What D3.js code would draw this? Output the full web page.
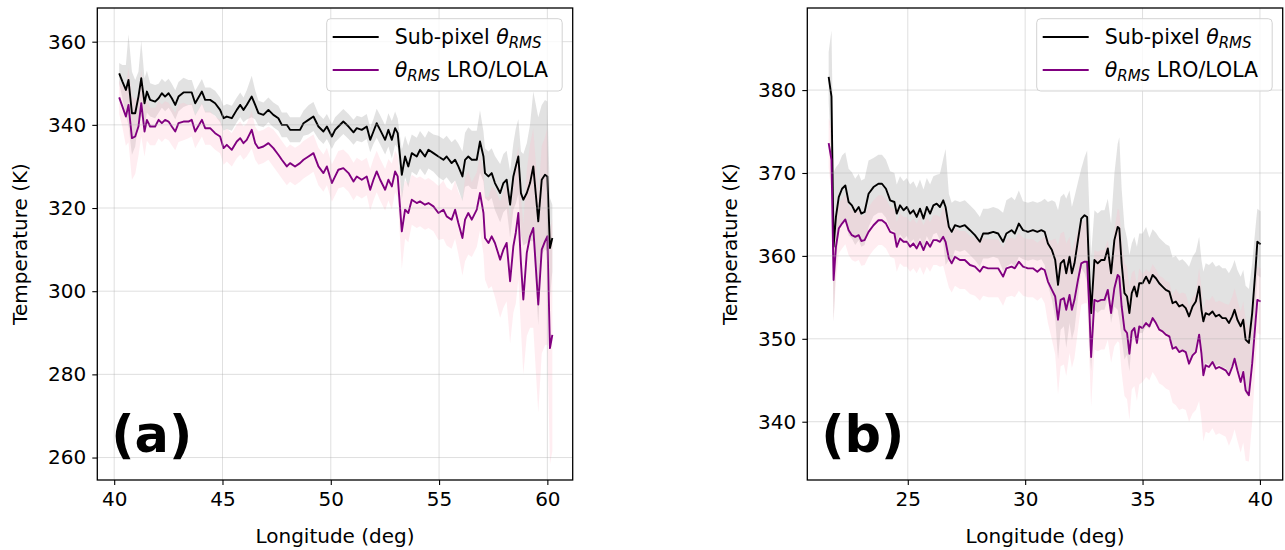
<!DOCTYPE html>
<html><head><meta charset="utf-8">
<script src="https://cdn.jsdelivr.net/npm/d3@7"></script>
<style>body{margin:0;background:#fff}svg{display:block}text{font-family:"DejaVu Sans",sans-serif;fill:#000}</style>
</head><body><svg id="c" width="1285" height="550"></svg>
<script>
// ---------- Panel (a) ----------
const lonA = [40.23,40.38,40.54,40.66,40.82,40.97,41.12,41.25,41.40,41.51,
41.66,41.89,42.05,42.20,42.35,42.51,42.66,42.82,42.97,43.20,
43.43,43.58,43.74,44.05,44.20,44.43,44.66,44.89,45.05,45.20,
45.43,45.66,45.82,45.97,46.12,46.35,46.51,46.66,46.89,47.12,
47.35,47.58,47.74,47.97,48.12,48.35,48.58,48.74,48.97,49.20,
49.43,49.66,49.82,50.05,50.20,50.35,50.58,50.82,51.05,51.20,
51.43,51.66,51.82,51.97,52.12,52.28,52.51,52.66,52.82,52.97,
53.09,53.28,53.43,53.58,53.74,53.97,54.12,54.35,54.51,54.74,
54.97,55.20,55.35,55.58,55.74,55.89,56.08,56.20,56.35,56.51,
56.74,56.89,57.05,57.12,57.28,57.43,57.58,57.82,57.97,58.12,
58.28,58.43,58.54,58.66,58.78,58.89,59.05,59.20,59.35,59.58,
59.74,59.89,60.00,60.12,60.23];
const subA = [352.4,350.4,348.4,350.8,342.8,342.8,346.8,351.2,345.2,348.0,
346.0,345.6,346.4,347.6,346.8,347.6,346.4,344.8,346.8,347.8,
347.8,347.8,345.2,348.0,346.0,346.0,345.2,343.6,341.6,342.0,
341.6,343.6,344.8,343.6,344.8,346.8,344.8,342.8,342.4,343.6,
342.4,341.6,340.0,340.0,338.8,338.8,338.8,340.4,341.2,342.0,
339.6,338.4,339.6,337.2,338.8,339.6,340.8,339.6,338.2,339.2,
338.8,339.6,336.4,338.4,340.4,338.8,336.4,338.8,336.4,339.2,
338.0,328.0,332.4,330.0,333.2,332.4,334.0,332.4,334.0,333.2,
332.4,331.6,332.4,330.8,331.6,330.0,327.6,331.6,332.4,331.6,
331.6,336.0,332.4,328.4,327.6,328.4,326.0,323.6,326.0,326.8,
320.8,327.6,330.0,332.4,323.6,322.0,323.6,326.0,330.0,316.8,
326.8,328.0,327.6,310.4,312.8];
const lolaA = [346.6,344.4,342.0,344.8,336.8,337.2,339.6,345.2,338.4,341.2,
339.6,339.6,341.2,340.4,341.2,340.8,339.6,338.4,340.4,340.8,
340.8,341.2,338.4,341.2,339.2,339.2,338.0,337.2,334.4,335.2,
334.0,336.0,336.8,335.6,336.4,338.8,335.6,334.4,334.8,335.6,
334.4,332.8,331.6,330.0,330.8,330.0,330.8,331.6,332.4,333.2,
330.0,328.4,330.0,326.0,327.6,329.2,329.6,328.4,326.4,327.6,
326.8,327.6,324.4,326.8,328.8,326.8,324.4,326.8,325.2,328.8,
327.6,314.4,319.6,318.8,322.0,321.2,321.6,320.8,321.2,320.4,
318.8,319.6,318.0,317.2,319.6,316.4,312.8,317.2,318.8,317.2,
319.6,323.6,318.8,312.8,311.6,313.2,311.6,307.6,310.0,311.6,
302.4,310.8,314.0,318.8,306.8,298.0,309.2,313.2,315.2,296.8,
310.0,312.0,313.2,286.3,289.5];
const subSdA = [2.5,4,6,11,10,8,6,9,6,5,
4,4,3.5,3.5,3.5,3.5,3.5,3.5,3.5,3.5,
3,3,3,3,3,3,3,3,3,3,
3,3,3,3,3.5,5,3.5,3,3,3,
3,3,3,3,3,3,3,3,3.5,3.5,
3,3,3,3,3,3,3,3,3,3,
3,3,3,3,3.5,3.5,3.5,4,4.5,4,
3.5,6,5,5,4.5,4.5,4.5,4.5,4.5,4.5,
5,5,5,5,5,5.5,6,6.5,7,7,
7,7.5,6,6,6,6,6.5,7,7,7,
8,8,9,9,10,11,12,14,18,25,
18,18,18,12,8];
const lolaSdA = [4,5,7,9,10,9,7,8,6,5,
4.5,4.5,4.5,4.5,4.5,4.5,4.5,4.5,4.5,4.5,
4,4,4,4,4,4,4,4,4,4,
4,4,4,4,4,4.5,4,4,4,4,
4.5,4.5,4.5,4.5,4.5,4.5,4.5,4.5,4.5,4.5,
4.5,4.5,4.5,4.5,4.5,4.5,4.5,4.5,4.5,4.5,
4.5,4.5,5,5,5,5,5,5,5.5,5,
5,9,7,7,6,6,6,6,6,6,
6.5,7,7,7,7,7.5,9,10,10,9,
9,9,10,10,11,12,13,14,14,14,
15,16,17,16,16,18,20,22,24,26,
25,25,26,28,28];

// ---------- Panel (b) ----------
const lonB = [21.63,21.75,21.84,21.94,22.06,22.20,22.34,22.48,22.62,22.76,
22.91,23.02,23.16,23.33,23.54,23.75,23.90,24.07,24.25,24.43,
24.53,24.67,24.82,24.96,25.10,25.24,25.38,25.52,25.67,25.81,
25.95,26.09,26.23,26.37,26.51,26.61,26.75,26.87,27.01,27.22,
27.43,27.65,27.86,28.07,28.21,28.42,28.64,28.85,29.06,29.20,
29.42,29.56,29.73,29.91,30.12,30.33,30.52,30.69,30.83,30.97,
31.14,31.28,31.40,31.51,31.65,31.75,31.89,31.99,32.10,32.25,
32.39,32.53,32.64,32.74,32.81,32.95,33.09,33.24,33.38,33.52,
33.66,33.80,33.94,34.01,34.11,34.23,34.34,34.44,34.54,34.65,
34.76,34.86,35.00,35.15,35.29,35.43,35.57,35.71,35.85,35.99,
36.14,36.28,36.42,36.56,36.70,36.84,36.98,37.13,37.27,37.41,
37.51,37.59,37.69,37.83,37.98,38.12,38.26,38.40,38.54,38.68,
38.82,38.92,39.04,39.18,39.29,39.39,39.53,39.67,39.82,39.89,
40.03];
const subB = [381.6,379.2,361.1,364.7,367.1,368.1,368.5,366.5,366.1,365.3,
365.9,365.1,365.3,367.5,368.3,368.7,368.7,368.1,366.7,366.5,
365.1,366.1,365.5,365.9,365.1,365.5,364.7,365.7,364.5,365.9,
365.1,366.1,366.3,365.9,366.7,365.9,363.5,362.9,363.7,363.5,
363.7,363.1,362.5,361.7,362.7,362.7,362.9,362.7,361.7,362.7,
363.1,362.7,363.9,363.1,362.9,363.1,362.9,363.1,362.9,361.5,
360.7,359.5,356.5,359.1,359.5,357.9,359.9,357.9,359.1,361.9,
364.5,364.9,364.7,357.1,353.1,359.5,359.1,359.5,359.5,360.9,
357.9,361.9,363.5,363.3,359.1,355.5,355.1,353.1,355.5,356.3,
355.1,356.7,356.7,357.5,356.7,357.7,357.3,356.7,356.3,355.9,
355.7,354.3,354.5,353.9,354.1,353.7,352.7,353.9,354.5,356.3,
353.5,352.1,353.1,352.9,353.3,352.7,352.9,352.5,352.5,351.9,
352.7,353.5,352.3,351.5,352.3,349.9,349.5,353.1,358.7,361.7,
361.4];
const lolaB = [373.6,371.6,357.1,361.1,363.3,363.9,364.4,363.1,362.5,362.3,
362.5,361.8,361.9,362.9,363.7,364.3,364.3,363.9,362.9,362.7,
361.1,362.1,361.7,361.7,361.1,361.5,360.9,361.7,360.7,361.7,
361.1,361.9,361.9,361.7,362.3,361.7,359.7,359.1,359.9,359.5,
359.5,358.9,358.7,358.1,358.7,358.5,358.5,358.5,357.5,358.5,
358.7,358.5,359.3,358.7,358.5,358.5,358.1,358.5,358.3,356.9,
355.9,355.1,352.3,354.7,354.9,353.5,355.3,353.5,354.7,357.1,
359.1,359.3,359.3,353.1,347.8,354.7,354.5,354.7,354.7,355.9,
353.1,356.1,357.7,357.5,353.9,351.1,350.7,348.2,350.9,351.3,
349.5,351.5,351.3,351.9,351.5,352.5,351.9,351.1,350.9,350.5,
350.3,348.8,349.0,348.4,348.6,348.4,347.0,348.0,348.4,350.5,
348.2,345.6,346.8,346.6,347.2,346.4,346.6,346.4,346.2,345.6,
346.6,347.6,346.2,344.8,346.0,343.8,343.2,347.0,352.3,354.7,
354.5];
const subSdB = [3,8,9,6,4,4,4,4,4,4,
4,4,4,4,3.5,3.5,3.5,3.5,3.5,3.5,
3.5,3.5,3.5,3.5,3.5,3.5,3.5,3.5,3.5,3.5,
3.5,3.5,3.5,4,5,7,4,3.5,3,3,
3,3,3,3,3,3,3,3,3.5,4,
4,4,4,3.5,3.5,3.5,3.5,3.5,4,5,
6,7,9,8,8,9,8,8,8,7,
6,7,8,8,7,6,6,6,6,6,
6,8,10,11,9,8,7,7,6,6,
6,6,6,6,5.5,5.5,5.5,5.5,5.5,5.5,
5.5,5.5,5.5,5.5,5.5,5.5,6,6,6,6,
6,6,6,6,6,6,6,6,6,6,
6,6,6,6,6,6.5,6.5,6,5,4,
4];
const lolaSdB = [3,4,5,4,3,3,3,3,3,3,
3,3,3,3,3,3,3,3,3,3,
3,3,3,3,3,3,3,3,3,3,
3,3,3,3,3.5,4,3.5,3.5,3.5,3.5,
3.5,3.5,3.5,3.5,3.5,3.5,3.5,3.5,3.5,3.5,
3.5,3.5,3.5,3.5,3.5,3.5,3.5,3.5,4,5,
6,7,9,8,8,8,7,7,7,6,
5,5,5,6,6,6,6,6,6,6,
6,7,8,8,8,8,8,8,7,7,
7,7,6.5,6.5,6.5,6.5,6.5,6.5,6.5,6.5,
6.5,6.5,7,7,7,7,7,7,7,8,
8,8,8,8,8,8,8,8,8,8.5,
8.5,8.5,8.5,8.5,8.5,8.5,8,7,5,4,
4];

const xTicksA = [40,45,50,55,60];
const yTicksA = [260,280,300,320,340,360];
const xTicksB = [25,30,35,40];
const yTicksB = [340,350,360,370,380];
const seriesNames = ["Sub-pixel", "LRO/LOLA"];
const panelLabels = ["(a)", "(b)"];
const xTitle = "Longitude (deg)";
const yTitle = "Temperature (K)";

const svg = d3.select("#c");

function drawPanel(id, box, xDom, yDom, lon, sub, lola, subSd, lolaSd, xTicks, yTicks, label) {
  const x = d3.scaleLinear().domain(xDom).range([box.l, box.r]);
  const y = d3.scaleLinear().domain(yDom).range([box.b, box.t]);
  const g = svg.append("g");
  g.append("clipPath").attr("id", "clip" + id).append("rect")
    .attr("x", box.l).attr("y", box.t).attr("width", box.r - box.l).attr("height", box.b - box.t);

  const sData = lon.map((d, i) => ({lon: d, v: sub[i], s: subSd[i]}));
  const pData = lon.map((d, i) => ({lon: d, v: lola[i], s: lolaSd[i]}));
  const area = d3.area().x(d => x(d.lon)).y0(d => y(d.v - d.s)).y1(d => y(d.v + d.s));
  const line = d3.line().x(d => x(d.lon)).y(d => y(d.v));

  const plot = g.append("g").attr("clip-path", "url(#clip" + id + ")");
  plot.append("path").datum(sData).attr("d", area).attr("fill", "#808080").attr("fill-opacity", 0.23);
  plot.append("path").datum(pData).attr("d", area).attr("fill", "#ffc0cb").attr("fill-opacity", 0.28);

  // grid
  const grid = g.append("g").attr("stroke", "#b0b0b0").attr("stroke-opacity", 0.4).attr("stroke-width", 1);
  xTicks.forEach(t => grid.append("line").attr("x1", x(t)).attr("x2", x(t)).attr("y1", box.t).attr("y2", box.b));
  yTicks.forEach(t => grid.append("line").attr("y1", y(t)).attr("y2", y(t)).attr("x1", box.l).attr("x2", box.r));

  plot.append("path").datum(sData).attr("d", line).attr("fill", "none").attr("stroke", "#000").attr("stroke-width", 1.9).attr("stroke-linejoin", "round");
  plot.append("path").datum(pData).attr("d", line).attr("fill", "none").attr("stroke", "#800080").attr("stroke-width", 1.9).attr("stroke-linejoin", "round");

  // axes
  const xa = g.append("g").attr("transform", `translate(0,${box.b})`)
    .call(d3.axisBottom(x).tickValues(xTicks).tickSize(5).tickPadding(7).tickFormat(d3.format("d")));
  const ya = g.append("g").attr("transform", `translate(${box.l},0)`)
    .call(d3.axisLeft(y).tickValues(yTicks).tickSize(5).tickPadding(6).tickFormat(d3.format("d")));
  [xa, ya].forEach(a => {
    a.select(".domain").remove();
    a.selectAll(".tick line").attr("stroke", "#000").attr("stroke-width", 1.1);
    a.selectAll(".tick text").attr("font-size", 20).attr("font-family", "DejaVu Sans").attr("fill", "#000");
  });
  g.append("rect").attr("x", box.l).attr("y", box.t).attr("width", box.r - box.l).attr("height", box.b - box.t)
    .attr("fill", "none").attr("stroke", "#000").attr("stroke-width", 1.3);

  // titles
  g.append("text").attr("x", (box.l + box.r) / 2).attr("y", 543).attr("text-anchor", "middle")
    .attr("font-size", 20).text(xTitle);
  g.append("text").attr("transform", `translate(${box.l - 70},${(box.t + box.b) / 2}) rotate(-90)`)
    .attr("text-anchor", "middle").attr("font-size", 20).text(yTitle);

  // panel label
  g.append("text").attr("x", box.l + 14).attr("y", 452).attr("font-size", 51).attr("font-weight", "bold").text(label);

  // legend
  const lg = g.append("g").attr("transform", `translate(${box.r - 246},${box.t + 10.7})`);
  lg.append("rect").attr("width", 235.5).attr("height", 72.3).attr("rx", 4)
    .attr("fill", "#fff").attr("fill-opacity", 0.8).attr("stroke", "#d3d3d3").attr("stroke-width", 1);
  const items = [{c: "#000", y: 18.3}, {c: "#800080", y: 51.3}];
  items.forEach(it => lg.append("line").attr("x1", 6).attr("x2", 52).attr("y1", it.y).attr("y2", it.y)
    .attr("stroke", it.c).attr("stroke-width", 1.9));
  const t1 = lg.append("text").attr("x", 68).attr("y", items[0].y + 7).attr("font-size", 20.5);
  t1.append("tspan").text(seriesNames[0] + " ");
  t1.append("tspan").attr("font-style", "italic").text("θ");
  t1.append("tspan").attr("font-style", "italic").attr("font-size", 15).attr("dy", 4).text("RMS");
  const t2 = lg.append("text").attr("x", 68).attr("y", items[1].y + 7).attr("font-size", 20.5);
  t2.append("tspan").attr("font-style", "italic").text("θ");
  t2.append("tspan").attr("font-style", "italic").attr("font-size", 15).attr("dy", 4).text("RMS");
  t2.append("tspan").attr("dy", -4).text(" " + seriesNames[1]);
}

drawPanel("a", {l: 97.3, r: 572.7, t: 8, b: 480}, [39.22, 61.17], [254.6, 368.1],
  lonA, subA, lolaA, subSdA, lolaSdA, xTicksA, yTicksA, panelLabels[0]);
drawPanel("b", {l: 807.3, r: 1282.7, t: 8, b: 480}, [20.72, 40.97], [332.97, 389.9],
  lonB, subB, lolaB, subSdB, lolaSdB, xTicksB, yTicksB, panelLabels[1]);
</script></body></html>
